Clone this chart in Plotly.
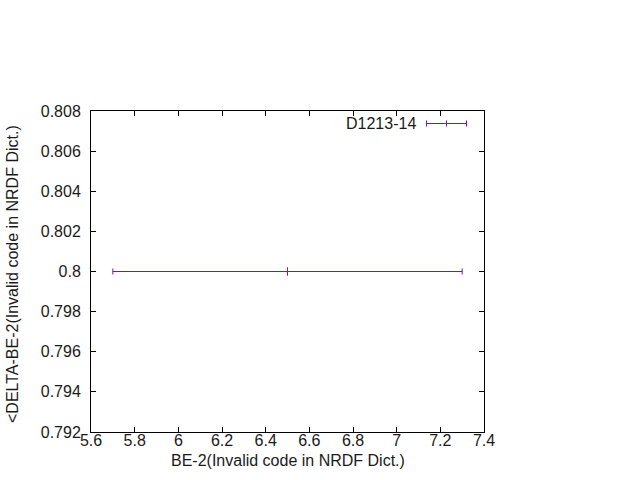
import plotly.graph_objects as go

# data
x_vals = [6.5]
y_vals = [0.8]
x_err = [0.8]
series_name = "D1213-14"
x_title = "BE-2(Invalid code in NRDF Dict.)"
y_title = "&lt;DELTA-BE-2(Invalid code in NRDF Dict.)"

purple = "#9400d3"
font = dict(family="Liberation Sans, Arial, sans-serif", size=16, color="#1a1a1a")

fig = go.Figure()
fig.add_trace(go.Scatter(
    x=x_vals, y=y_vals, mode="markers",
    marker=dict(symbol="line-ns", size=6, color=purple, line=dict(color=purple, width=1)),
    error_x=dict(type="data", array=x_err, visible=True, color=purple, thickness=1, width=3),
    showlegend=False,
))

L, R, T, B = 91, 156, 111, 48
W, H = 640 - L - R, 480 - T - B

def px(xp):
    return (xp - L) / W

def py(yp):
    return (480 - B - yp) / H

ly = py(123.5)
cap = 3 / H
shapes = [
    dict(type="line", xref="paper", yref="paper", x0=px(426.5), x1=px(466.5), y0=ly, y1=ly,
         line=dict(color=purple, width=1)),
]
for xx in (426.5, 446.5, 466.5):
    shapes.append(dict(type="line", xref="paper", yref="paper", x0=px(xx), x1=px(xx),
                       y0=ly - cap, y1=ly + cap, line=dict(color=purple, width=1)))

annotations = [
    dict(text=series_name, xref="paper", yref="paper", x=px(418), y=ly,
         xanchor="right", yanchor="middle", showarrow=False, font=font),
    dict(text=x_title, xref="paper", yref="paper", x=0.5, y=0, yshift=-28,
         xanchor="center", yanchor="middle", showarrow=False, font=font),
    dict(text=y_title, xref="paper", yref="paper", x=0, xshift=-78.5, y=0.5, yshift=-3,
         xanchor="center", yanchor="middle", textangle=-90, showarrow=False, font=font),
]

axis_common = dict(showgrid=False, zeroline=False, showline=True, linecolor="black", linewidth=1,
                   mirror="allticks", ticks="inside", ticklen=5, tickcolor="black", tickwidth=1,
                   tickfont=font)

fig.update_layout(
    width=640, height=480,
    margin=dict(l=L, r=R, t=T, b=B, pad=0),
    paper_bgcolor="white", plot_bgcolor="white",
    xaxis=dict(range=[5.6, 7.4], dtick=0.2, tick0=5.6, ticklabelstandoff=-6, **axis_common),
    yaxis=dict(range=[0.792, 0.808], dtick=0.002, tick0=0.792, ticklabelstandoff=6, **axis_common),
    shapes=shapes, annotations=annotations, font=font,
)

fig.write_html("out.html", config={"displayModeBar": False, "staticPlot": True},
               post_script="document.body.style.margin='0';document.body.style.overflow='hidden';")
